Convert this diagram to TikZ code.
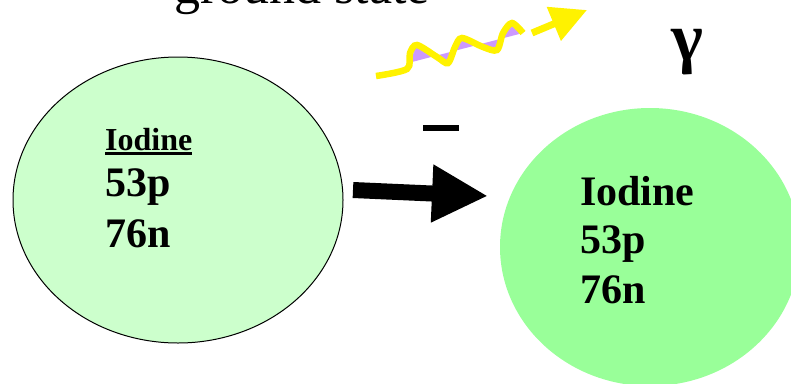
\documentclass[tikz,border=0pt]{standalone}
\usepackage{fontspec}
\setmainfont{Liberation Serif}
\usetikzlibrary{shapes.geometric,arrows.meta}
\definecolor{paleGreen}{HTML}{CCFFCC}
\definecolor{lightGreen}{HTML}{99FF99}
\definecolor{photonViolet}{HTML}{CC99FF}
\newcommand{\ulword}[1]{\sbox0{#1}\rlap{\rule[-5pt]{\wd0}{3.5pt}}\usebox0}
\begin{document}
\begin{tikzpicture}[x=1pt,y=-1pt,
  nuc/.style={font=\fontsize{42}{42}\selectfont\bfseries,anchor=base west,inner sep=0pt}]
  \useasboundingbox (0,0) rectangle (791,383);
  \node[ellipse,draw,line width=1pt,fill=paleGreen,minimum width=330pt,minimum height=286pt,inner sep=0pt] (parent) at (178,200) {};
  \node[ellipse,fill=lightGreen,minimum width=300pt,minimum height=278pt,inner sep=0pt] (daughter) at (650,247) {};
  \node[nuc,font=\fontsize{32}{32}\selectfont\bfseries] (nameA) at (105,150) {\ulword{Iodine}};
  \node[nuc] (protA) at (105,196) {53p};
  \node[nuc] (neutA) at (105,247) {76n};
  \node[nuc] (nameB) at (580,205) {Iodine};
  \node[nuc] (protB) at (580,253) {53p};
  \node[nuc] (neutB) at (580,303) {76n};
  \node[font=\fontsize{52}{52}\selectfont,anchor=base,inner sep=0pt] (state) at (302,3) {ground state};
  \node[font=\fontsize{68}{68}\selectfont\bfseries,anchor=base,inner sep=0pt] (gamma) at (687,60) {γ};
  \node[inner sep=0pt] (minus) at (441,128) {\rule{36pt}{6pt}};
  \coordinate (arrS) at (353,190);
  \coordinate (arrE) at (488,196);
  \draw[line width=16pt,-{Triangle[length=56pt,width=54pt]}] (arrS) -- (arrE);
  \fill[photonViolet] plot[smooth] coordinates {(412,62) (417,45) (437,57) (448,63) (455,47) (462,38) (483,47) (497,50) (503,33) (512,23) (523,33)} -- cycle;
  \draw[yellow,line width=6.5pt] plot[smooth] coordinates {(376,76) (407,69) (410,53) (417,45) (437,57) (448,63) (455,47) (462,38) (483,47) (497,50) (503,33) (512,23) (523,33)};
  \coordinate (rayS) at (532,33);
  \coordinate (rayE) at (587,10);
  \draw[yellow,line width=7pt,-{Triangle[length=36pt,width=35pt]}] (rayS) -- (rayE);
\end{tikzpicture}
\end{document}
